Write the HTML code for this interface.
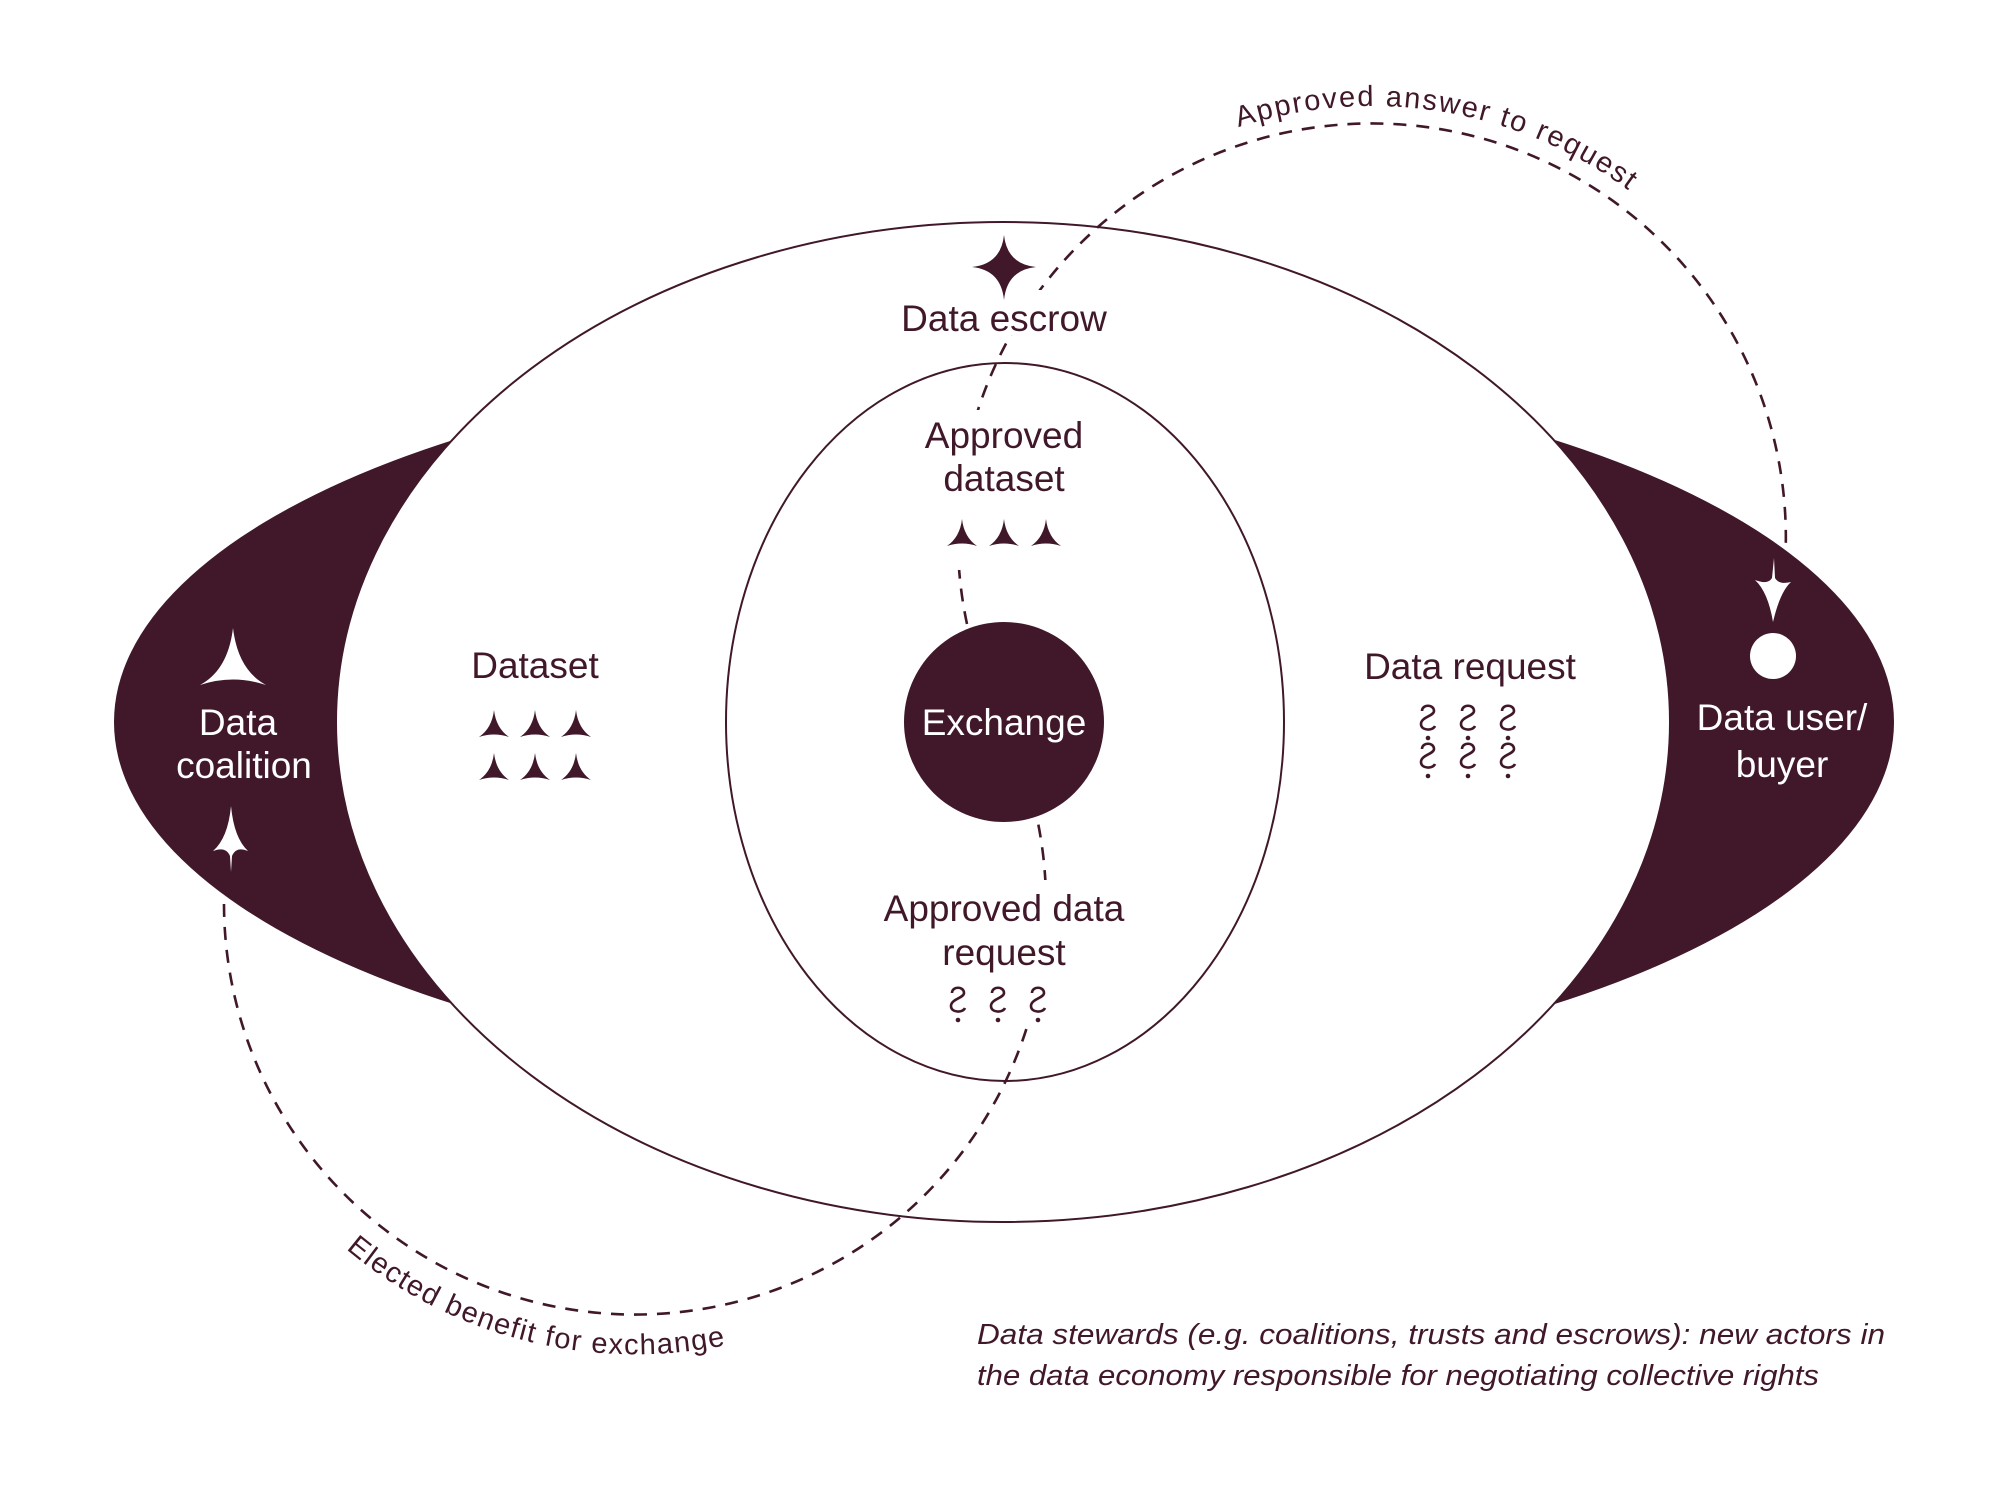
<!DOCTYPE html>
<html><head><meta charset="utf-8"><style>
html,body{margin:0;padding:0;background:#fff;}
svg{display:block;}
text{font-family:"Liberation Sans",sans-serif;}
</style></head><body>
<svg width="2000" height="1504" viewBox="0 0 2000 1504" xmlns="http://www.w3.org/2000/svg">
<defs>
<path id="tri" d="M0,-14 Q2,4 15,13 Q0,8 -15,13 Q-2,4 0,-14Z"/>
<g id="q"><path d="M-6,-7 C-6,-14 6,-14 6,-7 C6,-2 -7,-1 -7,6 C-7,13 5,13 7,8" fill="none" stroke="#40182a" stroke-width="2.6"/><circle cx="0" cy="20" r="2.3" fill="#40182a"/></g>
<path id="topArc" d="M 1238.5,127.2 A 432,432 0 0 1 1649.8,207.1"/>
<path id="botArc" d="M 346,1249 A 450,450 0 0 0 744,1341"/>
</defs>
<ellipse cx="1004" cy="722" rx="890" ry="359" fill="#40182a"/>
<ellipse cx="1003" cy="722" rx="667" ry="500" fill="#fff" stroke="#40182a" stroke-width="2"/>
<ellipse cx="1005" cy="722" rx="279" ry="359" fill="#fff" stroke="#40182a" stroke-width="2"/>
<path d="M 967,624 A 414,414 0 1 1 1785,564" fill="none" stroke="#40182a" stroke-width="2.6" stroke-dasharray="13,10"/>
<path d="M 224,904 A 411,411 0 1 0 1037,818" fill="none" stroke="#40182a" stroke-width="2.6" stroke-dasharray="13,10"/>
<rect x="900" y="290" width="210" height="45" fill="#fff"/>
<rect x="920" y="410" width="170" height="160" fill="#fff"/>
<rect x="880" y="880" width="250" height="140" fill="#fff"/>
<circle cx="1004" cy="722" r="100" fill="#40182a"/>
<text x="1004" y="735" font-size="37" fill="#fff" text-anchor="middle">Exchange</text>
<path d="M1004,235 Q1007,264 1036,267 Q1007,270 1004,300 Q1001,270 972,267 Q1001,264 1004,235Z" fill="#40182a"/>
<text x="1004" y="331" font-size="37" fill="#40182a" text-anchor="middle">Data escrow</text>
<text x="1004" y="448" font-size="37" fill="#40182a" text-anchor="middle">Approved</text>
<text x="1004" y="491" font-size="37" fill="#40182a" text-anchor="middle">dataset</text>
<g fill="#40182a"><use href="#tri" x="962" y="533"/><use href="#tri" x="1004" y="533"/><use href="#tri" x="1046" y="533"/></g>
<text x="1004" y="921" font-size="37" fill="#40182a" text-anchor="middle">Approved data</text>
<text x="1004" y="965" font-size="37" fill="#40182a" text-anchor="middle">request</text>
<use href="#q" x="958" y="1000"/><use href="#q" x="998" y="1000"/><use href="#q" x="1038" y="1000"/>
<text x="535" y="678" font-size="37" fill="#40182a" text-anchor="middle">Dataset</text>
<g fill="#40182a">
<use href="#tri" x="494" y="724"/><use href="#tri" x="535" y="724"/><use href="#tri" x="576" y="724"/>
<use href="#tri" x="494" y="767"/><use href="#tri" x="535" y="767"/><use href="#tri" x="576" y="767"/>
</g>
<text x="1470" y="679" font-size="37" fill="#40182a" text-anchor="middle">Data request</text>
<use href="#q" x="1428" y="718"/><use href="#q" x="1468" y="718"/><use href="#q" x="1508" y="718"/>
<use href="#q" x="1428" y="756"/><use href="#q" x="1468" y="756"/><use href="#q" x="1508" y="756"/>
<path d="M233,628 Q238,670 266,685 Q233,674 200,685 Q228,670 233,628Z" fill="#fff"/>
<text x="238" y="735" font-size="37" fill="#fff" text-anchor="middle">Data</text>
<text x="244" y="778" font-size="37" fill="#fff" text-anchor="middle">coalition</text>
<path d="M231,806 Q234,838 248,851 Q236,846 232,856 L231,872 L230,856 Q226,846 213,851 Q228,838 231,806Z" fill="#fff"/>
<path d="M1774,558 L1775,578 Q1779,585 1791,582 Q1780,592 1773,622 Q1768,592 1755,580 Q1768,585 1772,578Z" fill="#fff"/>
<circle cx="1773" cy="656" r="23" fill="#fff"/>
<text x="1782" y="730" font-size="37" fill="#fff" text-anchor="middle">Data user/</text>
<text x="1782" y="777" font-size="37" fill="#fff" text-anchor="middle">buyer</text>
<text font-size="29" fill="#40182a"><textPath href="#topArc" textLength="410">Approved answer to request</textPath></text>
<text font-size="29" fill="#40182a"><textPath href="#botArc" textLength="405">Elected benefit for exchange</textPath></text>
<text x="977" y="1344" font-size="29" font-style="italic" fill="#40182a" textLength="908" lengthAdjust="spacingAndGlyphs">Data stewards (e.g. coalitions, trusts and escrows): new actors in</text>
<text x="977" y="1385" font-size="29" font-style="italic" fill="#40182a" textLength="842" lengthAdjust="spacingAndGlyphs">the data economy responsible for negotiating collective rights</text>
</svg>
</body></html>
